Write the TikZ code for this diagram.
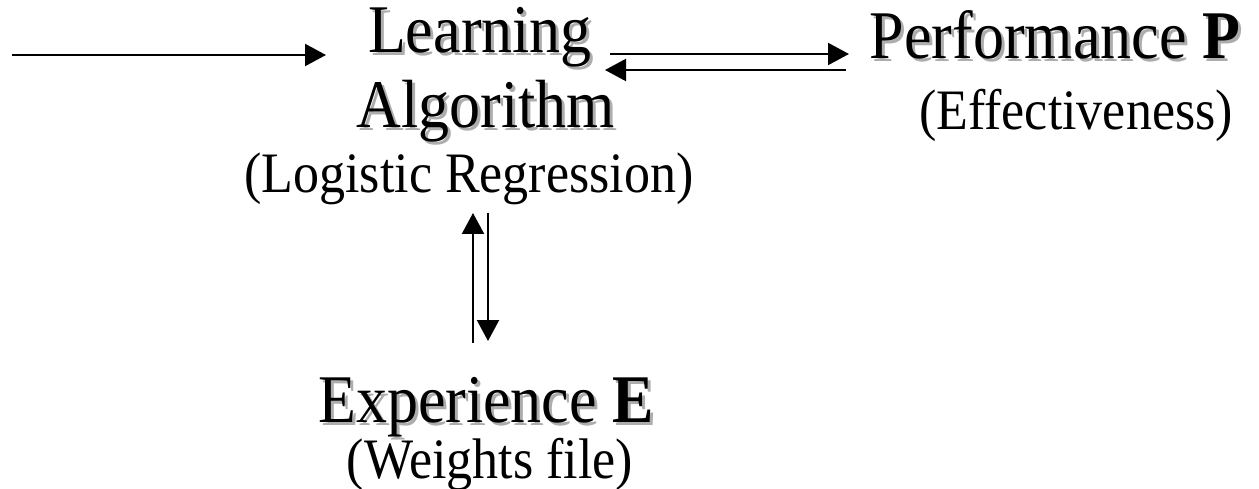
\documentclass[tikz,border=0pt]{standalone}
\usepackage{fontspec}
\usepackage{graphicx}
\setmainfont{Liberation Serif}
\usetikzlibrary{arrows.meta}

% big titles with a soft grey drop shadow, smaller plain captions beneath
\newcommand{\bigtxt}{\fontsize{62}{70}\selectfont}
\newcommand{\smalltxt}{\fontsize{52}{60}\selectfont}
\newcommand{\tall}[1]{\scalebox{1}[1.1]{#1}}

\tikzset{
  title/.style={anchor=base, inner sep=0pt, font=\bigtxt, text=black},
  titleshadow/.style={anchor=base, inner sep=0pt, font=\bigtxt, text=black!32},
  caption/.style={anchor=base, inner sep=0pt, font=\smalltxt, text=black},
  arr/.style={line width=2.2pt, -{Triangle[length=21pt,width=22pt]}},
}

\begin{document}
\begin{tikzpicture}[x=1pt, y=-1pt]
\useasboundingbox (0,0) rectangle (1259,489);

% shadows first, then the titles on top
\node[titleshadow] (learn-sh) at (483,56) {\tall{Learning}};
\node[title]       (learn)    at (480,53) {\tall{Learning}};
\node[titleshadow] (algo-sh)  at (489,131) {\tall{Algorithm}};
\node[title]       (algo)     at (486,128) {\tall{Algorithm}};
\node[caption]     (logreg)   at (469,193) {\tall{(Logistic Regression)}};

\node[titleshadow] (perf-sh)  at (1058,62) {\tall{Performance \textbf{P}}};
\node[title]       (perf)     at (1055,59) {\tall{Performance \textbf{P}}};
\node[caption]     (effect)   at (1076,130) {\tall{(Effectiveness)}};

\node[titleshadow] (exper-sh) at (489,425) {\tall{Experience \textbf{E}}};
\node[title]       (exper)    at (486,422) {\tall{Experience \textbf{E}}};
\node[caption]     (weights)  at (490,478) {\tall{(Weights file)}};

% arrow ends
\coordinate (in-start)  at (12,55);
\coordinate (in-end)    at (326,55);
\coordinate (lp-start)  at (610,54);
\coordinate (lp-end)    at (849,54);
\coordinate (pl-start)  at (846,70);
\coordinate (pl-end)    at (605,70);
\coordinate (up-start)  at (473,343);
\coordinate (up-end)    at (473,213);
\coordinate (dn-start)  at (488,213);
\coordinate (dn-end)    at (488,341);

% input into the learning algorithm
\draw[arr] (in-start) -- (in-end);
% learning algorithm <-> performance
\draw[arr] (lp-start) -- (lp-end);
\draw[arr] (pl-start) -- (pl-end);
% learning algorithm <-> experience
\draw[arr] (up-start) -- (up-end);
\draw[arr] (dn-start) -- (dn-end);
\end{tikzpicture}
\end{document}
